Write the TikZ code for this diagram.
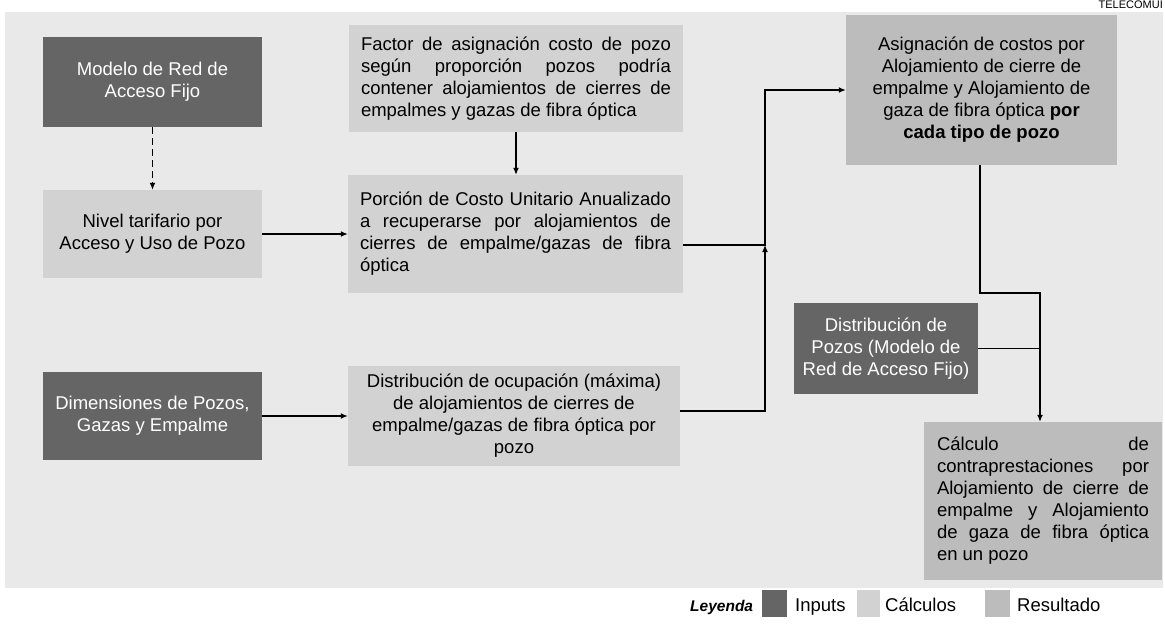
\documentclass[tikz,border=0pt]{standalone}
\usepackage{fontspec}
\setmainfont{Liberation Sans}
\usetikzlibrary{arrows.meta}
\definecolor{bgc}{HTML}{E9E9E9}
\definecolor{inpc}{HTML}{656565}
\definecolor{calcc}{HTML}{D2D2D2}
\definecolor{resc}{HTML}{BCBCBC}
\tikzset{
  base/.style={draw=none, inner sep=0pt, font=\fontsize{18.5}{22}\selectfont, align=center},
  inputbox/.style={base, fill=inpc, text=white},
  calcbox/.style={base, fill=calcc, text=black},
  resbox/.style={base, fill=resc, text=black},
  conn/.style={draw=black, line width=1.3pt},
  arr/.style={conn, -{Latex[length=7pt,width=6pt]}},
  legtext/.style={font=\fontsize{18.5}{22}\selectfont, anchor=base west, inner sep=0pt},
}
\begin{document}
\begin{tikzpicture}[x=1pt,y=-1pt]
\useasboundingbox (0,0) rectangle (1165,627);
\clip (0,0) rectangle (1165,627);
\fill[white] (0,0) rectangle (1165,627);
\fill[bgc] (5,12) rectangle (1163,588);
\node[font=\fontsize{11}{12}\selectfont, anchor=north east, inner sep=0pt] (hdr) at (1163,1) {TELECOMUI};

% boxes
\node[inputbox, minimum width=219pt, minimum height=90pt] (modelo) at (152.5,82) {Modelo de Red de\\Acceso Fijo};
\node[calcbox, minimum width=219pt, minimum height=88pt] (nivel) at (152.5,234) {Nivel tarifario por\\Acceso y Uso de Pozo};
\node[calcbox, minimum width=334pt, minimum height=107pt, text width=310pt, align=justify] (factor) at (516,78.5)
  {Factor de asignación costo de pozo\linebreak según proporción pozos podría\linebreak contener alojamientos de cierres de\linebreak empalmes y gazas de fibra óptica};
\node[calcbox, minimum width=335pt, minimum height=118pt, text width=311pt, align=justify] (porcion) at (515.5,234)
  {Porción de Costo Unitario Anualizado\linebreak a recuperarse por alojamientos de\linebreak cierres de empalme/gazas de fibra\linebreak óptica};
\node[resbox, minimum width=271pt, minimum height=150pt] (asig) at (981.5,90)
  {Asignación de costos por\\Alojamiento de cierre de\\empalme y Alojamiento de\\gaza de fibra óptica \textbf{por}\\\textbf{cada tipo de pozo}};
\node[inputbox, minimum width=184pt, minimum height=91pt] (dpozos) at (886,348.5)
  {Distribución de\\Pozos (Modelo de\\Red de Acceso Fijo)};
\node[resbox, minimum width=238pt, minimum height=158pt, text width=212pt, align=justify] (calc) at (1043,501)
  {Cálculo de\linebreak contraprestaciones por\linebreak Alojamiento de cierre de\linebreak empalme y Alojamiento\linebreak de gaza de fibra óptica\linebreak en un pozo};
\node[calcbox, minimum width=332pt, minimum height=100pt] (docup) at (514,416)
  {Distribución de ocupación (máxima)\\de alojamientos de cierres de\\empalme/gazas de fibra óptica por\\pozo};
\node[inputbox, minimum width=219pt, minimum height=88pt] (dimen) at (152.5,416)
  {Dimensiones de Pozos,\\Gazas y Empalme};

% connector junctions
\coordinate (j1) at (765,245);
\coordinate (j2) at (765,411);
\coordinate (k1) at (980,293);
\coordinate (k2) at (1040,293);

% connectors
\draw[arr, dash pattern=on 7pt off 4pt] (modelo.south) -- (nivel.north);
\draw[arr] (nivel.east) -- (nivel.east -| porcion.west);
\draw[arr] (factor.south) -- (factor.south |- porcion.north);
\draw[arr] (j1 -| porcion.east) -- (j1) |- (asig.west);
\draw[arr] (j2 -| docup.east) -- (j2) -- (j1);
\draw[arr] (dimen.east) -- (dimen.east -| docup.west);
\draw[arr] (k1 |- asig.south) -- (k1) -- (k2) -- (k2 |- calc.north);
\draw[conn] (dpozos.east) -- (dpozos.east -| k2);

% legend
\node[legtext, font=\fontsize{15.5}{18}\selectfont\bfseries\itshape] (ley) at (690,611) {Leyenda};
\node[fill=inpc, minimum width=25pt, minimum height=27pt, inner sep=0pt] (sw1) at (774.5,603.5) {};
\node[legtext] (t1) at (795,611) {Inputs};
\node[fill=calcc, minimum width=23pt, minimum height=27pt, inner sep=0pt] (sw2) at (868.5,603.5) {};
\node[legtext] (t2) at (885,611) {Cálculos};
\node[fill=resc, minimum width=25pt, minimum height=27pt, inner sep=0pt] (sw3) at (997.5,603.5) {};
\node[legtext] (t3) at (1017,611) {Resultado};
\end{tikzpicture}
\end{document}
